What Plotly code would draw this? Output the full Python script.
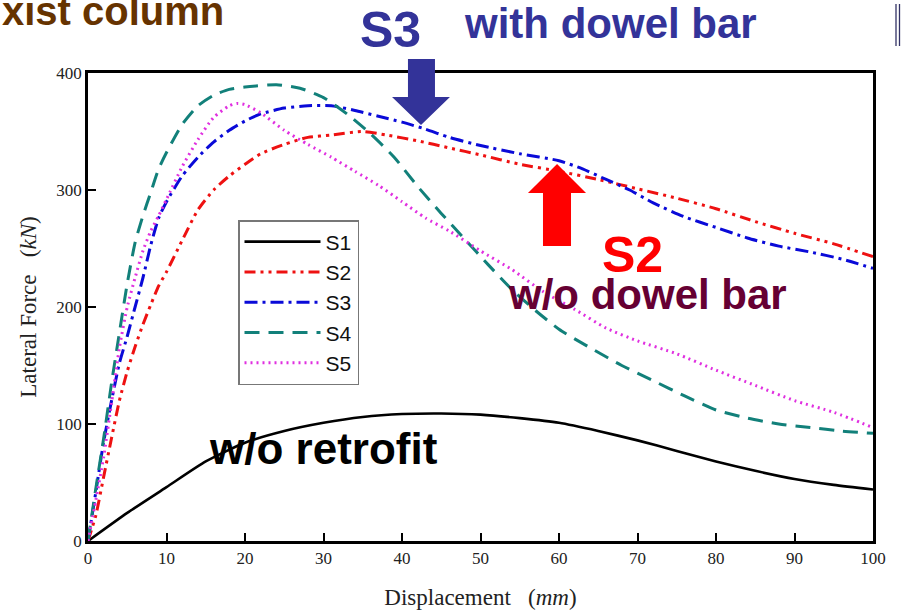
import plotly.graph_objects as go

# ---- data ----
s1_x = [0, 5, 10, 15, 20, 25, 30, 35, 40, 45, 50, 55, 60, 65, 70, 75, 80, 85, 90, 95, 100]
s1_y = [0, 24, 46, 68, 84, 94, 101, 106, 108.5, 109, 108, 105, 101, 94, 86, 77, 68, 60, 53, 48, 44]

s2_x = [0, 1, 2, 3, 4, 5, 6, 7, 8, 9, 10, 12, 14, 16, 18, 20, 22, 25, 28, 31, 35, 38, 42, 46, 50, 55, 60, 65, 70, 75, 80, 85, 90, 95, 100]
s2_y = [0, 22, 55, 88, 120, 145, 166, 185, 202, 218, 230, 257, 283, 300, 312, 322, 331, 339, 345, 347, 350, 347, 342, 336, 330, 322, 316, 309, 301, 293, 284, 273, 263, 254, 243]

s3_x = [0, 1, 2, 3, 4, 5, 6, 7, 8, 9, 10, 12, 14, 16, 18, 20, 22, 25, 28, 31, 34, 37, 40, 43, 46, 50, 55, 60, 63, 66, 69, 72, 76, 80, 84, 88, 92, 96, 100]
s3_y = [0, 42, 85, 120, 152, 175, 200, 225, 253, 276, 290, 312, 328, 341, 351, 359, 365, 370, 372, 372, 368, 363, 358, 352, 345, 338, 331, 325, 318, 309, 300, 289, 277, 268, 259, 252, 247, 241, 233]

s4_x = [0, 1, 2, 3, 4, 5, 6, 7, 8, 9, 10, 12, 14, 16, 18, 20, 24, 27, 30, 33, 36, 39, 42, 45, 48, 51, 54, 57, 60, 64, 68, 72, 76, 80, 84, 88, 92, 96, 100]
s4_y = [0, 45, 88, 135, 178, 220, 255, 278, 298, 318, 332, 356, 372, 381, 386, 388, 390, 387, 379, 365, 348, 328, 303, 280, 258, 236, 215, 197, 181, 165, 150, 137, 124, 112, 105, 100, 97, 94, 92]

s5_x = [0, 1, 2, 3, 4, 5, 6, 7, 8, 9, 10, 12, 14, 16, 18, 19, 20, 22, 25, 28, 31, 34, 37, 40, 43, 46, 50, 54, 58, 62, 66, 70, 75, 80, 85, 90, 95, 100]
s5_y = [0, 35, 72, 118, 165, 200, 225, 248, 265, 278, 292, 320, 343, 362, 372, 374, 373, 366, 351, 339, 328, 316, 304, 290, 276, 265, 248, 232, 213, 198, 182, 171, 160, 146, 133, 120, 110, 97]

names = ["S1", "S2", "S3", "S4", "S5"]
colors = ["#000000", "#ee1111", "#0a0ad8", "#12807a", "#e030e0"]
dashes = ["solid", "11px,5px,3px,5px,3px,5px", "13px,5px,3px,5px", "15px,9px", "2px,4px"]
widths = [2.6, 3, 3, 3, 3]
xs = [s1_x, s2_x, s3_x, s4_x, s5_x]
ys = [s1_y, s2_y, s3_y, s4_y, s5_y]

x_ticks = list(range(0, 101, 10))
y_ticks = [0, 100, 200, 300, 400]

# ---- layout geometry (pixels) ----
W, H = 902, 613
L, R, T, B = 88, 29, 73, 72
PW, PH = W - L - R, H - T - B


def px(x):
    return (x - L) / PW


def py(y):
    return (H - B - y) / PH


fig = go.Figure()
for i in range(5):
    fig.add_trace(go.Scatter(
        x=xs[i], y=ys[i], name=names[i], mode="lines",
        line=dict(color=colors[i], width=widths[i], dash=dashes[i], shape="spline", smoothing=0.6),
        legendgroup=names[i],
    ))

serif = "Liberation Serif, Times New Roman, serif"
sans = "Liberation Sans, Arial, sans-serif"

fig.update_layout(
    width=W, height=H,
    margin=dict(l=L, r=R, t=T, b=B, autoexpand=False),
    paper_bgcolor="white", plot_bgcolor="white",
    showlegend=True,
    legend=dict(
        x=px(238), y=py(220), xanchor="left", yanchor="top",
        bordercolor="#777777", borderwidth=1.5, bgcolor="white",
        font=dict(family=sans, size=21, color="#111111"),
        tracegroupgap=0, itemwidth=76,
    ),
    xaxis=dict(
        range=[0, 100], tickvals=x_ticks, ticks="inside", ticklen=8, tickwidth=2,
        tickcolor="black", showline=True, linecolor="black", linewidth=2.5, mirror=True,
        showgrid=False, zeroline=False, automargin=False,
        tickfont=dict(family=serif, size=17, color="#222222"),
        title=dict(text="Displacement   (<i>mm</i>)", font=dict(family=serif, size=23, color="#222222"), standoff=22),
    ),
    yaxis=dict(
        range=[0, 400], tickvals=y_ticks, ticks="inside", ticklen=8, tickwidth=2,
        tickcolor="black", showline=True, linecolor="black", linewidth=2.5, mirror=True,
        showgrid=False, zeroline=False, automargin=False,
        tickfont=dict(family=serif, size=17, color="#222222"),
        title=dict(text="Lateral Force   (<i>kN</i>)", font=dict(family=serif, size=23, color="#222222"), standoff=14),
    ),
)

annotations = [
    dict(text="xist column", x=px(0), y=py(11), xanchor="left", yanchor="middle",
         font=dict(family=sans, size=40, color="#663300")),
    dict(text="S3", x=px(390), y=py(30), xanchor="center", yanchor="middle",
         font=dict(family=sans, size=50, color="#333399")),
    dict(text="with dowel bar", x=px(610), y=py(24), xanchor="center", yanchor="middle",
         font=dict(family=sans, size=42, color="#333399")),
    dict(text="S2", x=px(632), y=py(255), xanchor="center", yanchor="middle",
         font=dict(family=sans, size=50, color="#ff0000")),
    dict(text="w/o dowel bar", x=px(647), y=py(294), xanchor="center", yanchor="middle",
         font=dict(family=sans, size=42, color="#660033")),
    dict(text="w/o retrofit", x=px(323), y=py(448), xanchor="center", yanchor="middle",
         font=dict(family=sans, size=44, color="#000000")),
]
for a in annotations:
    a["text"] = "<b>" + a["text"] + "</b>"
    fig.add_annotation(xref="paper", yref="paper", showarrow=False, **a)


def path(points):
    return "M " + " L ".join(f"{px(a):.4f},{py(b):.4f}" for a, b in points) + " Z"


blue_arrow = [(408, 59), (435, 59), (435, 97), (450, 97), (421, 125), (392, 97), (408, 97)]
red_arrow = [(557, 164), (586, 193), (571, 193), (571, 246), (543, 246), (543, 193), (528, 193)]
fig.add_shape(type="path", xref="paper", yref="paper", path=path(blue_arrow),
              fillcolor="#333399", line=dict(width=0))
fig.add_shape(type="path", xref="paper", yref="paper", path=path(red_arrow),
              fillcolor="#ff0000", line=dict(width=0))
for xx in (896, 899.5):
    fig.add_shape(type="line", xref="paper", yref="paper", x0=px(xx), x1=px(xx), y0=py(4), y1=py(46),
                  line=dict(color="#333366", width=1.3))

fig.write_html("out.html")
